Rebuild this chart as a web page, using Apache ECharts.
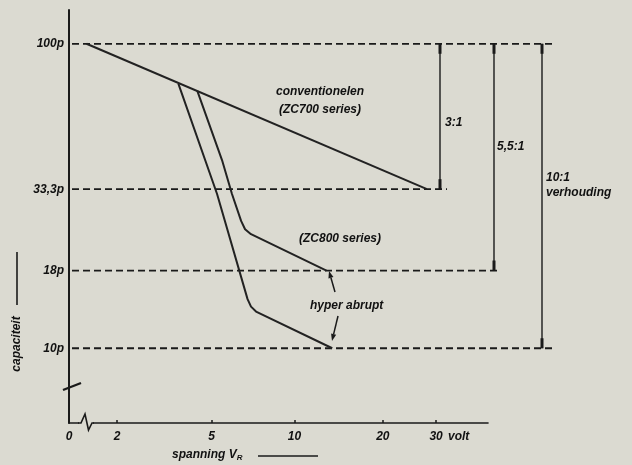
<!DOCTYPE html>
<html>
<head>
<meta charset="utf-8">
<script src="https://cdn.jsdelivr.net/npm/echarts@6/dist/echarts.min.js"></script>
<style>
  html, body { margin: 0; padding: 0; background: #dbdad1; }
  #chart { width: 632px; height: 465px; }
</style>
</head>
<body>
<div id="chart"></div>
<script>
// Reverse voltage V_R in volt, capacitance in pF
const conventionalV = [1.4, 28];
const conventionalC = [100, 33.3];

const zc800V = [4.4, 5.47, 5.96, 6.44, 6.66, 7.0, 12.9];
const zc800C = [70, 41.5, 32.1, 26.2, 24.6, 23.7, 18];

const hyperV = [3.7, 5.24, 6.8, 7.0, 7.3, 13.5];
const hyperC = [74, 32.1, 14.5, 13.7, 13.2, 10];

const voltTicks = [2, 5, 10, 20, 30];
const capLevels = [100, 33.3, 18, 10];
const capLabels = ['100p', '33,3p', '18p', '10p'];

// Voltage axis is logarithmic in (V_R + 1 V); the origin sits on a broken axis
const V_SHIFT = 1;
const X_MIN = 1.111 + V_SHIFT;
const X_MAX = 44.34 + V_SHIFT;
const Y_MIN = 5.683;
const Y_MAX = 129.1;

const INK = '#1a1a1a';
const FONT = 'italic bold 12px "Liberation Sans", Arial, sans-serif';
const BG = '#dbdad1';

function pairs(vs, cs) {
  return vs.map((v, i) => [v + V_SHIFT, cs[i]]);
}

function curve(name, vs, cs) {
  return {
    name: name,
    type: 'line',
    data: pairs(vs, cs),
    showSymbol: false,
    smooth: false,
    lineStyle: { color: '#222222', width: 2 },
    z: 5
  };
}

const chart = echarts.init(document.getElementById('chart'), null, { renderer: 'canvas' });

chart.setOption({
  backgroundColor: BG,
  animation: false,
  grid: { left: 69, right: 144, top: 10, bottom: 42 },
  xAxis: {
    type: 'log',
    logBase: 10,
    min: X_MIN,
    max: X_MAX,
    axisLine: { show: true, lineStyle: { color: INK, width: 1.6 } },
    axisTick: {
      show: true, inside: true, length: 3,
      customValues: voltTicks.map(v => v + V_SHIFT),
      lineStyle: { color: INK, width: 1.5 }
    },
    axisLabel: {
      show: true,
      margin: 8,
      customValues: [X_MIN].concat(voltTicks.map(v => v + V_SHIFT)),
      formatter: function (val) {
        if (val < 2 + V_SHIFT - 0.05) return '0';
        return String(Math.round(val - V_SHIFT));
      },
      color: '#111',
      fontFamily: '"Liberation Sans", Arial, sans-serif',
      fontStyle: 'italic',
      fontWeight: 'bold',
      fontSize: 12
    },
    splitLine: { show: false }
  },
  yAxis: {
    type: 'log',
    logBase: 10,
    min: Y_MIN,
    max: Y_MAX,
    axisLine: { show: true, lineStyle: { color: INK, width: 2 } },
    axisTick: { show: false },
    axisLabel: { show: false },
    splitLine: { show: false }
  },
  series: [
    curve('conventioneel', conventionalV, conventionalC),
    curve('ZC800', zc800V, zc800C),
    curve('hyper abrupt', hyperV, hyperC)
  ]
});

// Annotations: reference levels, ratio brackets, labels
const py = c => chart.convertToPixel({ yAxisIndex: 0 }, c);
const gridLeft = 69;
const levelEnds = [553, 447, 500, 552];

function text(str, x, y, align, extra) {
  return Object.assign({
    type: 'text', x: x, y: y, z: 20,
    style: {
      text: str, font: FONT, fill: '#111',
      textAlign: align || 'left', textVerticalAlign: 'middle'
    }
  }, extra || {});
}

function line(x1, y1, x2, y2, w, dash) {
  return {
    type: 'line', z: 4,
    shape: { x1: x1, y1: y1, x2: x2, y2: y2 },
    style: { stroke: INK, lineWidth: w || 1.4, lineDash: dash || null }
  };
}

function arrow(x1, y1, x2, y2) {
  const a = Math.atan2(y2 - y1, x2 - x1);
  const L = 7, W = 2.6;
  const bx = x2 - L * Math.cos(a), by = y2 - L * Math.sin(a);
  const nx = -Math.sin(a) * W, ny = Math.cos(a) * W;
  return [
    line(x1, y1, bx, by, 1.5),
    { type: 'polygon', z: 4, shape: { points: [[x2, y2], [bx + nx, by + ny], [bx - nx, by - ny]] }, style: { fill: INK } }
  ];
}

function bracket(x, cTop, cBot) {
  const y1 = py(cTop), y2 = py(cBot);
  return [
    line(x, y1, x, y2, 1.4),
    line(x, y1, x, y1 + 10, 3),
    line(x, y2 - 10, x, y2, 3)
  ];
}

const g = [];

capLevels.forEach((c, i) => {
  const y = py(c);
  g.push(line(gridLeft + 3, y, levelEnds[i], y, 1.8, [7, 4]));
  g.push(text(capLabels[i], 64, y, 'right'));
});

g.push(...bracket(440, 100, 33.3));
g.push(...bracket(494, 100, 18));
g.push(...bracket(542, 100, 10));
g.push(text('3:1', 445, 123));
g.push(text('5,5:1', 497, 147));
g.push(text('10:1', 546, 178));
g.push(text('verhouding', 546, 193));

g.push(text('conventionelen', 320, 92, 'center'));
g.push(text('(ZC700 series)', 320, 110, 'center'));
g.push(text('(ZC800 series)', 299, 239));
g.push(text('hyper abrupt', 310, 306));
g.push(...arrow(335, 292, 329, 271));
g.push(...arrow(338, 316, 332, 341));

// broken voltage axis near the origin
g.push({ type: 'rect', z: 10, shape: { x: 79, y: 419, width: 14, height: 8 }, style: { fill: BG } });
g.push({ type: 'polyline', z: 11, shape: { points: [[78, 423], [81, 423], [85, 414], [88.5, 430], [92, 423], [94, 423]] }, style: { stroke: INK, lineWidth: 1.6, fill: null } });
// break mark on the capacitance axis
g.push(line(63, 390, 81, 383, 2.4));

// unit after the last voltage label
g.push(text('volt', 448, 437));

// axis titles
g.push({
  type: 'text', x: 172, y: 455, z: 20,
  style: {
    text: '{a|spanning V}{b|R}',
    textVerticalAlign: 'middle',
    rich: {
      a: { font: FONT, fill: '#111' },
      b: { font: 'italic bold 8px "Liberation Sans", Arial, sans-serif', fill: '#111', padding: [6, 0, 0, 0] }
    }
  }
});
g.push(line(258, 456, 318, 456, 1.6));

g.push({
  type: 'text', x: 17, y: 344, rotation: Math.PI / 2, z: 20,
  style: { text: 'capaciteit', font: FONT, fill: '#111', textAlign: 'center', textVerticalAlign: 'middle' }
});
g.push(line(17, 252, 17, 305, 1.6));

chart.setOption({ graphic: g });
</script>
</body>
</html>
